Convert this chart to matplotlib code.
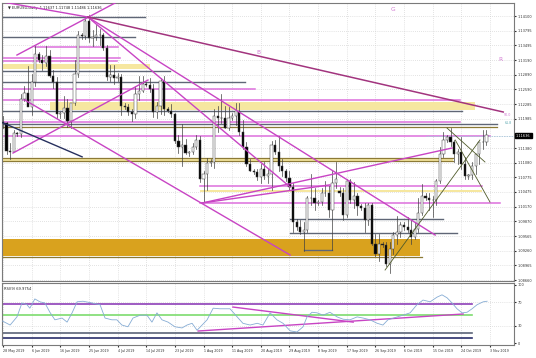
import matplotlib
matplotlib.use("Agg")
import matplotlib.pyplot as plt

# daily bars incl. Sunday bars, index 0 = 28 May 2019, last = 1 Nov 2019
opens = [1.1192, 1.1190, 1.1132, 1.1130, 1.1168, 1.1167, 1.1240, 1.1252, 1.1222, 1.1275,
         1.1332, 1.1320, 1.1313, 1.1327, 1.1287, 1.1275, 1.1208, 1.1210, 1.1220, 1.1193,
         1.1230, 1.1290, 1.1370, 1.1368, 1.1400, 1.1365, 1.1366, 1.1370, 1.1370, 1.1345,
         1.1285, 1.1288, 1.1282, 1.1285, 1.1225, 1.1222, 1.1213, 1.1208, 1.1250, 1.1255,
         1.1270, 1.1268, 1.1260, 1.1212, 1.1225, 1.1277, 1.1219, 1.1215, 1.1208, 1.1152,
         1.1140, 1.1145, 1.1127, 1.1130, 1.1140, 1.1155, 1.1075, 1.1085, 1.1108, 1.1110,
         1.1205, 1.1200, 1.1200, 1.1180, 1.1200, 1.1205, 1.1215, 1.1170, 1.1140, 1.1105,
         1.1090, 1.1088, 1.1078, 1.1095, 1.1080, 1.1085, 1.1145, 1.1130, 1.1100, 1.1090,
         1.1077, 1.1057, 1.0985, 1.0975, 1.0965, 1.0970, 1.1035, 1.1035, 1.1025, 1.1027,
         1.1045, 1.1045, 1.1010, 1.1065, 1.1050, 1.1045, 1.1000, 1.1070, 1.1030, 1.1040,
         1.1018, 1.1015, 1.0990, 1.1020, 1.0940, 1.0920, 1.0940, 1.0938, 1.0900, 1.0930,
         1.0958, 1.0965, 1.0980, 1.0975, 1.0970, 1.0955, 1.0972, 1.1005, 1.1040, 1.1035,
         1.1030, 1.1030, 1.1070, 1.1125, 1.1155, 1.1160, 1.1150, 1.1125, 1.1130, 1.1105,
         1.1080, 1.1082, 1.1100, 1.1125, 1.1150, 1.1150]
highs = [1.1205, 1.1192, 1.1148, 1.1175, 1.1172, 1.1250, 1.1265, 1.1308, 1.1290, 1.1348,
         1.1335, 1.1330, 1.1348, 1.1340, 1.1298, 1.1285, 1.1212, 1.1245, 1.1240, 1.1230,
         1.1320, 1.1380, 1.1375, 1.1404, 1.1412, 1.1381, 1.1392, 1.1383, 1.1375, 1.1350,
         1.1310, 1.1310, 1.1292, 1.1290, 1.1230, 1.1229, 1.1218, 1.1265, 1.1286, 1.1286,
         1.1275, 1.1283, 1.1270, 1.1232, 1.1282, 1.1286, 1.1222, 1.1228, 1.1210, 1.1164,
         1.1188, 1.1157, 1.1132, 1.1148, 1.1165, 1.1162, 1.1090, 1.1118, 1.1115, 1.1218,
         1.1225, 1.1250, 1.1225, 1.1222, 1.1210, 1.1230, 1.1230, 1.1195, 1.1150, 1.1115,
         1.1095, 1.1095, 1.1105, 1.1110, 1.1095, 1.1153, 1.1155, 1.1163, 1.1115, 1.1095,
         1.1090, 1.1065, 1.0992, 1.0990, 1.0985, 1.1040, 1.1085, 1.1055, 1.1030, 1.1055,
         1.1070, 1.1060, 1.1090, 1.1110, 1.1058, 1.1055, 1.1075, 1.1075, 1.1068, 1.1045,
         1.1022, 1.1025, 1.1025, 1.1025, 1.0960, 1.0960, 1.0945, 1.0945, 1.0945, 1.0965,
         1.0998, 1.0985, 1.0985, 1.0995, 1.0990, 1.0985, 1.1035, 1.1063, 1.1045, 1.1045,
         1.1040, 1.1075, 1.1140, 1.1172, 1.1165, 1.1180, 1.1155, 1.1135, 1.1160, 1.1120,
         1.1085, 1.1110, 1.1125, 1.1150, 1.1175, 1.1175]
lows = [1.1180, 1.1125, 1.1116, 1.1132, 1.1162, 1.1160, 1.1235, 1.1230, 1.1207, 1.1265,
        1.1315, 1.1298, 1.1306, 1.1285, 1.1262, 1.1200, 1.1200, 1.1200, 1.1181, 1.1180,
        1.1226, 1.1285, 1.1362, 1.1362, 1.1357, 1.1348, 1.1360, 1.1351, 1.1340, 1.1279,
        1.1277, 1.1270, 1.1277, 1.1207, 1.1218, 1.1206, 1.1193, 1.1200, 1.1237, 1.1253,
        1.1265, 1.1254, 1.1202, 1.1200, 1.1208, 1.1206, 1.1212, 1.1201, 1.1148, 1.1127,
        1.1101, 1.1126, 1.1122, 1.1125, 1.1135, 1.1068, 1.1027, 1.1051, 1.1100, 1.1097,
        1.1170, 1.1190, 1.1180, 1.1175, 1.1195, 1.1185, 1.1165, 1.1135, 1.1100, 1.1090,
        1.1085, 1.1073, 1.1065, 1.1075, 1.1065, 1.1052, 1.1125, 1.1090, 1.1080, 1.1070,
        1.1052, 1.0965, 1.0970, 1.0960, 1.0926, 1.0965, 1.1020, 1.1010, 1.1020, 1.1020,
        1.1040, 1.0995, 1.0927, 1.1055, 1.1040, 1.0990, 1.0995, 1.1025, 1.1015, 1.1000,
        1.1010, 1.0965, 1.0980, 1.0938, 1.0915, 1.0905, 1.0935, 1.0895, 1.0880, 1.0920,
        1.0940, 1.0955, 1.0970, 1.0965, 1.0940, 1.0950, 1.0965, 1.1000, 1.1030, 1.1010,
        1.0995, 1.1020, 1.1065, 1.1120, 1.1150, 1.1142, 1.1110, 1.1105, 1.1095, 1.1075,
        1.1075, 1.1075, 1.1085, 1.1105, 1.1135, 1.1145]
closes = [1.1190, 1.1132, 1.1130, 1.1168, 1.1167, 1.1240, 1.1252, 1.1222, 1.1275, 1.1332,
          1.1320, 1.1313, 1.1327, 1.1287, 1.1275, 1.1208, 1.1210, 1.1220, 1.1193, 1.1230,
          1.1290, 1.1370, 1.1368, 1.1400, 1.1365, 1.1366, 1.1370, 1.1370, 1.1345, 1.1285,
          1.1288, 1.1282, 1.1285, 1.1225, 1.1222, 1.1213, 1.1208, 1.1250, 1.1255, 1.1270,
          1.1268, 1.1260, 1.1212, 1.1225, 1.1277, 1.1219, 1.1215, 1.1208, 1.1152, 1.1140,
          1.1145, 1.1127, 1.1130, 1.1140, 1.1155, 1.1075, 1.1085, 1.1108, 1.1110, 1.1205,
          1.1200, 1.1200, 1.1180, 1.1200, 1.1205, 1.1215, 1.1170, 1.1140, 1.1105, 1.1090,
          1.1088, 1.1078, 1.1095, 1.1080, 1.1085, 1.1145, 1.1130, 1.1100, 1.1090, 1.1077,
          1.1057, 1.0985, 1.0975, 1.0965, 1.0970, 1.1035, 1.1035, 1.1025, 1.1027, 1.1045,
          1.1045, 1.1010, 1.1065, 1.1075, 1.1045, 1.1000, 1.1070, 1.1030, 1.1040, 1.1018,
          1.1015, 1.0990, 1.1020, 1.0940, 1.0920, 1.0940, 1.0938, 1.0900, 1.0930, 1.0958,
          1.0965, 1.0980, 1.0975, 1.0970, 1.0955, 1.0972, 1.1005, 1.1040, 1.1035, 1.1030,
          1.1030, 1.1070, 1.1125, 1.1155, 1.1160, 1.1150, 1.1125, 1.1130, 1.1105, 1.1080,
          1.1082, 1.1100, 1.1125, 1.1150, 1.1150, 1.1164]

date_labels = ["28 May 2019", "6 Jun 2019", "16 Jun 2019", "25 Jun 2019", "4 Jul 2019",
               "14 Jul 2019", "23 Jul 2019", "1 Aug 2019", "11 Aug 2019", "20 Aug 2019",
               "29 Aug 2019", "8 Sep 2019", "17 Sep 2019", "26 Sep 2019", "6 Oct 2019",
               "15 Oct 2019", "24 Oct 2019", "3 Nov 2019"]
price_ticks = [1.14100, 1.13795, 1.13495, 1.13190, 1.12890, 1.12590, 1.12285, 1.11985,
               1.11380, 1.11080, 1.10775, 1.10475, 1.10170, 1.09870, 1.09565, 1.09260,
               1.08965, 1.08660]
last_price = 1.11636

# horizontal levels: (price, start bar, end bar)
gray_levels = [(1.14079, 0, 39.7), (1.13667, 0, 36.9), (1.12967, 0, 46.6), (1.12740, 0, 67.6),
               (1.12142, 0, 128.2), (1.11875, 0, 138), (1.09917, 80.2, 122.9),
               (1.09629, 80.2, 126.8), (1.09278, 84, 92)]
pink_levels = [(1.13461, 8.9, 32.1), (1.13235, 0, 32.7), (1.13173, 0, 31.8), (1.12596, 0, 70.4),
               (1.12369, 0, 127.7), (1.11919, 0, 127.7), (1.11627, 0, 136),
               (1.10597, 55, 133.8), (1.10247, 55, 138.8)]
olive_levels = [(1.11813, 0, 138), (1.11174, 0, 125.7), (1.11112, 0, 125.7), (1.09134, 0, 117)]
# (low, high, start bar, end bar)
yellow_bands = [(1.13008, 1.13111, 0, 41), (1.12163, 1.12328, 13, 131.8),
                (1.11112, 1.11174, 0, 125.7), (1.10480, 1.10508, 55, 133.8)]
orange_bands = [(1.09155, 1.09505, 0, 116.5)]

# trend lines: (bar1, price1, bar2, price2)
magenta_lines = [(23.7, 1.14079, 139.7, 1.12122), (3.9, 1.13296, 31.8, 1.14388),
                 (0, 1.14388, 23.7, 1.14079), (23.7, 1.14079, 80.2, 1.10576),
                 (23.7, 1.14079, 120.7, 1.09587), (6.1, 1.12369, 80.2, 1.09175),
                 (2.8, 1.11277, 40.5, 1.12781), (55.6, 1.10247, 125.4, 1.11380),
                 (55.6, 1.10247, 91.3, 1.10621)]
navy_lines = [(0, 1.11898, 22.1, 1.11198)]
green_lines = [(106.7, 1.08866, 133.2, 1.11545), (124.0, 1.11792, 134.6, 1.11092),
               (126.3, 1.11545, 136.0, 1.10267)]

# RSI curve
rsi_bar = [-0.8, 2.0, 3.9, 5.3, 6.7, 7.5, 8.9, 10.3, 11.7, 13.1,
           14.5, 16.5, 17.9, 19.3, 20.7, 22.3, 24.9, 27.1, 28.5, 30.4,
           31.8, 33.2, 34.9, 36.3, 38.3, 40.2, 41.6, 43.0, 44.4, 46.1,
           48.0, 50.0, 51.4, 52.8, 54.2, 55.6, 57.0, 58.7, 60.6, 63.4,
           65.4, 67.0, 69.0, 71.0, 72.6, 74.6, 76.5, 78.2, 80.2, 82.1,
           83.8, 84.9, 86.3, 87.7, 89.4, 91.3, 93.3, 95.0, 96.9, 98.9,
           100.6, 102.5, 104.5, 106.1, 107.5, 110.1, 111.7, 113.7, 115.6, 117.3,
           119.3, 121.2, 122.6, 124.0, 125.4, 126.8, 128.2, 129.6, 131.0, 132.4,
           134.1, 135.2]
rsi_val = [40, 31, 45, 69, 66, 60, 76, 71, 69, 53,
           40, 43, 36, 52, 71, 72, 69, 66, 43, 40,
           40, 31, 28, 43, 48, 48, 36, 52, 40, 36,
           28, 26, 31, 34, 22, 31, 40, 60, 59, 59,
           45, 34, 31, 34, 31, 52, 40, 34, 21, 19,
           28, 45, 53, 52, 48, 53, 45, 41, 40, 45,
           43, 40, 34, 31, 40, 45, 48, 52, 66, 74,
           71, 79, 83, 78, 69, 59, 52, 53, 59, 66,
           71, 72]
rsi_levels = [(68, "#8e3fb8"), (48, "#7ddc6e"), (17, "#5b6478"), (9, "#2a2f6b")]
rsi_lines = [(54.5, 20.7, 128.5, 50.0), (64.2, 62.0, 97.8, 36.0)]

FS = 2.5
fig = plt.figure(figsize=(5.36, 3.58), dpi=100)
ax = fig.add_axes([0.0037, 0.2151, 0.9552, 0.7765])
rx = fig.add_axes([0.0037, 0.0363, 0.9552, 0.1732], sharex=ax)

n = len(closes)
xs = list(range(n))
ticks_x = [8 * k for k in range(len(date_labels))]

for a in (ax, rx):
    for x in ticks_x:
        a.axvline(x, color="#c9c9c9", lw=0.5, ls=(0, (1, 2)), zorder=0)
    for s in a.spines.values():
        s.set_color("#7a7a7a")
        s.set_linewidth(0.8)
for p in price_ticks:
    ax.axhline(p, color="#c9c9c9", lw=0.5, ls=(0, (1, 2)), zorder=0)

# levels and zones
for lo, hi, b0, b1 in orange_bands:
    ax.fill_between([b0, b1], lo, hi, color="#d9a21e", lw=0, zorder=1)
for lo, hi, b0, b1 in yellow_bands:
    ax.fill_between([b0, b1], lo, hi, color="#f6e7a0", lw=0, zorder=1)
for p, b0, b1 in gray_levels:
    ax.plot([b0, b1], [p, p], color="#5f6676", lw=1.0, zorder=2)
for p, b0, b1 in olive_levels:
    ax.plot([b0, b1], [p, p], color="#8c7a36", lw=0.9, zorder=2)
for p, b0, b1 in pink_levels:
    ax.plot([b0, b1], [p, p], color="#dd6fdd", lw=1.1, zorder=2)

# candles
for i in xs:
    o, h, l, c = opens[i], highs[i], lows[i], closes[i]
    ax.plot([i, i], [l, h], color="#404040", lw=0.5, zorder=3)
    bull = c >= o
    ax.bar(i, max(abs(c - o), 0.00006), bottom=min(o, c), width=0.62,
           color="white" if bull else "black", edgecolor="#404040", lw=0.35, zorder=4)

for b1, p1, b2, p2 in magenta_lines[1:]:
    ax.plot([b1, b2], [p1, p2], color="#c844c4", lw=1.0, zorder=5)
b1, p1, b2, p2 = magenta_lines[0]
ax.plot([b1, b2], [p1, p2], color="#a2347e", lw=1.1, zorder=5)
for b1, p1, b2, p2 in navy_lines:
    ax.plot([b1, b2], [p1, p2], color="#27305e", lw=1.0, zorder=5)
for b1, p1, b2, p2 in green_lines:
    ax.plot([b1, b2], [p1, p2], color="#4f5a2a", lw=0.6, zorder=5)

ax.plot([118, 142.7], [last_price, last_price], color="#a8c4d8", lw=0.6, ls=(0, (2, 1)), zorder=2)

ax.text(71.2, 1.13358, "B", color="#d27ad2", fontsize=4.2, ha="center", va="center")
ax.text(108.9, 1.14224, "G", color="#d27ad2", fontsize=4.2, ha="center", va="center")
ax.text(138.8, 1.13214, "R", color="#d27ad2", fontsize=4.2, ha="center", va="center")
ax.text(141.0, 1.12070, "50.0", color="#d27ad2", fontsize=2.3, ha="center", va="center")
ax.text(141.0, 1.11905, "61.8", color="#5aa8b0", fontsize=2.3, ha="center", va="center")

ax.text(0.012, 0.988, "\u25bc EURUSD,Daily  1.11637 1.11748 1.11486 1.11636",
        transform=ax.transAxes, fontsize=2.6, va="top", ha="left", color="#202020")

ax.set_xlim(-0.28, 142.7)
ax.set_ylim(1.08640, 1.14368)
ax.yaxis.tick_right()
ax.set_yticks(price_ticks)
ax.set_yticklabels(["%.5f" % p for p in price_ticks])
ax.tick_params(axis="y", labelsize=FS, length=1.5, pad=1.0, colors="#303030")
ax.tick_params(axis="x", bottom=False, labelbottom=False)
ax.annotate("%.5f" % last_price, xy=(1.0, last_price), xycoords=("axes fraction", "data"),
            xytext=(1.5, 0), textcoords="offset points", fontsize=FS, color="white",
            va="center", ha="left",
            bbox=dict(boxstyle="square,pad=0.25", fc="black", ec="black"))

# RSI panel
for v, col in rsi_levels:
    rx.plot([0, 131], [v, v], color=col, lw=1.2, zorder=2)
for b1, v1, b2, v2 in rsi_lines:
    rx.plot([b1, b2], [v1, v2], color="#c844c4", lw=1.0, zorder=3)
rx.plot(rsi_bar, rsi_val, color="#86acd4", lw=0.6, zorder=4)
rx.text(0.004, 0.93, "RSI(9) 69.9754", transform=rx.transAxes, fontsize=2.6, va="top",
        ha="left", color="#202020")
rx.set_ylim(-3.4, 103.4)
rx.yaxis.tick_right()
rx.set_yticks([0, 30, 70, 100])
rx.set_yticklabels(["0", "30", "70", "100"])
rx.tick_params(axis="y", labelsize=FS, length=1.5, pad=1.0, colors="#303030")
for v in (30, 70):
    rx.axhline(v, color="#c9c9c9", lw=0.5, ls=(0, (1, 2)), zorder=0)
rx.set_xticks(ticks_x)
rx.set_xticklabels(date_labels, ha="left")
rx.tick_params(axis="x", labelsize=2.3, length=1.5, pad=1.5, colors="#303030")

fig.savefig("out.png", dpi=100)
